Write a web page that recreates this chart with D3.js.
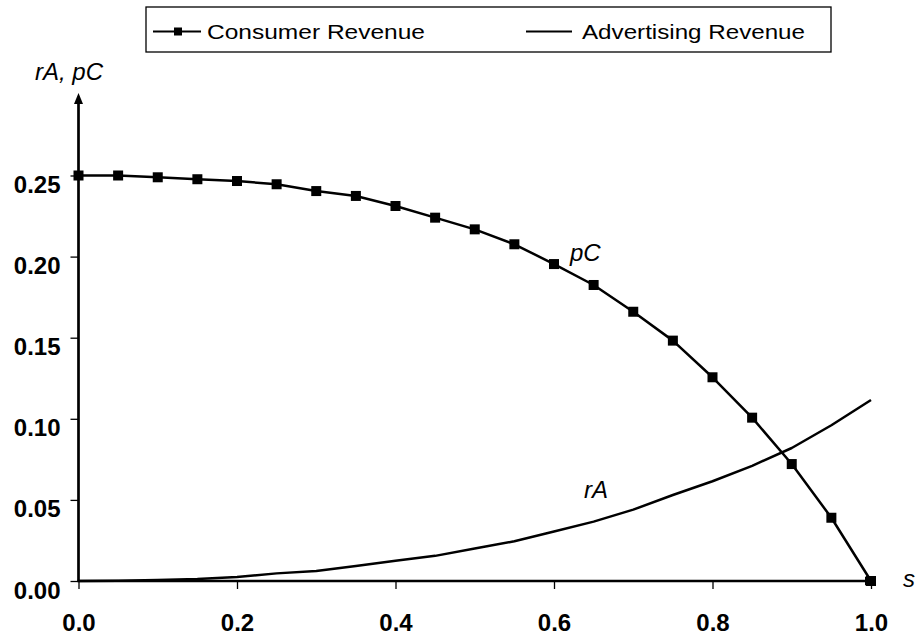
<!DOCTYPE html>
<html>
<head>
<meta charset="utf-8">
<script src="https://cdn.jsdelivr.net/npm/d3@7"></script>
<style>
  html, body { margin: 0; padding: 0; background: #fff; }
  svg { display: block; }
  text { font-family: "Liberation Sans", Arial, Helvetica, sans-serif; fill: #000; }
</style>
</head>
<body>
<svg id="chart" width="916" height="637"></svg>
<script>
// ---- data ----
const sValues = [0, 0.05, 0.1, 0.15, 0.2, 0.25, 0.3, 0.35, 0.4, 0.45, 0.5,
                 0.55, 0.6, 0.65, 0.7, 0.75, 0.8, 0.85, 0.9, 0.95, 1.0];
const consumerRevenue = [0.250, 0.250, 0.2489, 0.2477, 0.2466, 0.2446, 0.2404, 0.2374,
                         0.2312, 0.2240, 0.2168, 0.2076, 0.1954, 0.1825, 0.1660,
                         0.1482, 0.1256, 0.1007, 0.0721, 0.0390, 0.0];
const advertisingRevenue = [0, 0.0002, 0.0006, 0.0012, 0.0025, 0.0047, 0.0062, 0.0092,
                            0.0125, 0.0155, 0.0200, 0.0245, 0.0305, 0.0366, 0.0440,
                            0.0530, 0.0615, 0.0710, 0.0820, 0.0960, 0.1116];
const xTicks = [0, 0.2, 0.4, 0.6, 0.8, 1.0];
const yTicks = [0, 0.05, 0.10, 0.15, 0.20, 0.25];
const seriesNames = ["Consumer Revenue", "Advertising Revenue"];
const axisLabels = { y: "rA, pC", x: "s", pC: "pC", rA: "rA" };

// ---- layout ----
const svg = d3.select("#chart");
const x = d3.scaleLinear().domain([0, 1]).range([78.5, 871]);
const y = d3.scaleLinear().domain([0, 0.25]).range([581, 175.5]);
const x0 = x(0), y0 = y(0);

// axes (ticks + labels)
const xAxis = d3.axisBottom(x).tickValues(xTicks).tickFormat(d3.format(".1f"))
  .tickSize(8).tickPadding(25);
const gx = svg.append("g").attr("transform", `translate(0,${y0})`).call(xAxis);
gx.select(".domain").remove();
gx.selectAll(".tick line").attr("stroke", "#000").attr("stroke-width", 1.3);
gx.selectAll(".tick text").attr("font-size", 24).attr("font-weight", "bold")
  .attr("font-family", "Liberation Sans, Arial, sans-serif").attr("fill", "#000");

const yAxis = d3.axisLeft(y).tickValues(yTicks).tickFormat(d3.format(".2f"))
  .tickSize(8).tickPadding(10);
const gy = svg.append("g").attr("transform", `translate(${x0},0)`).call(yAxis);
gy.select(".domain").remove();
gy.selectAll(".tick line").attr("stroke", "#000").attr("stroke-width", 1.3);
gy.selectAll(".tick text").attr("font-size", 24).attr("font-weight", "bold")
  .attr("dy", 17)
  .attr("font-family", "Liberation Sans, Arial, sans-serif").attr("fill", "#000");

// axis lines with arrows
svg.append("line").attr("x1", x0).attr("x2", x0).attr("y1", y0 + 1).attr("y2", 100)
  .attr("stroke", "#000").attr("stroke-width", 2.7);
svg.append("path").attr("d", `M${x0},93 L${x0 - 4.5},104 L${x0 + 4.5},104 Z`).attr("fill", "#000");
svg.append("line").attr("x1", x0 - 1).attr("x2", x(1) + 1).attr("y1", y0).attr("y2", y0)
  .attr("stroke", "#000").attr("stroke-width", 2.7);
svg.append("path").attr("d", `M${x(1) + 5},${y0} L${x(1) - 6},${y0 - 4.5} L${x(1) - 6},${y0 + 4.5} Z`).attr("fill", "#000");

// lines
const lineGen = d3.line().x(d => x(d[0])).y(d => y(d[1]));
const adData = sValues.map((s, i) => [s, advertisingRevenue[i]]);
const crData = sValues.map((s, i) => [s, consumerRevenue[i]]);

svg.append("path").datum(adData).attr("d", lineGen)
  .attr("fill", "none").attr("stroke", "#000").attr("stroke-width", 2.5)
  .attr("stroke-linejoin", "round");
svg.append("path").datum(crData).attr("d", lineGen)
  .attr("fill", "none").attr("stroke", "#000").attr("stroke-width", 2.5)
  .attr("stroke-linejoin", "round");

const ms = 10;
svg.append("g").selectAll("rect").data(crData).join("rect")
  .attr("x", d => x(d[0]) - ms / 2).attr("y", d => y(d[1]) - ms / 2)
  .attr("width", ms).attr("height", ms).attr("fill", "#000");

// annotations
svg.append("text").attr("x", 35).attr("y", 80).attr("font-size", 24)
  .attr("font-style", "italic").text(axisLabels.y);
svg.append("text").attr("x", 903).attr("y", 587).attr("font-size", 24)
  .attr("font-style", "italic").text(axisLabels.x);
svg.append("text").attr("x", 570).attr("y", 261).attr("font-size", 24)
  .attr("font-style", "italic").text(axisLabels.pC);
svg.append("text").attr("x", 584).attr("y", 498).attr("font-size", 24)
  .attr("font-style", "italic").text(axisLabels.rA);

// legend
const lg = svg.append("g");
lg.append("rect").attr("x", 146).attr("y", 7).attr("width", 685).attr("height", 45)
  .attr("fill", "#fff").attr("stroke", "#000").attr("stroke-width", 1.3);
const ly = 31.5;
lg.append("line").attr("x1", 153).attr("x2", 201).attr("y1", ly).attr("y2", ly)
  .attr("stroke", "#000").attr("stroke-width", 2);
lg.append("rect").attr("x", 178 - 4).attr("y", ly - 4).attr("width", 8).attr("height", 8).attr("fill", "#000");
lg.append("text").attr("x", 207).attr("y", 39).attr("font-size", 21)
  .attr("textLength", 218).attr("lengthAdjust", "spacingAndGlyphs").text(seriesNames[0]);
lg.append("line").attr("x1", 526).attr("x2", 572).attr("y1", ly).attr("y2", ly)
  .attr("stroke", "#000").attr("stroke-width", 2);
lg.append("text").attr("x", 582).attr("y", 39).attr("font-size", 21)
  .attr("textLength", 223).attr("lengthAdjust", "spacingAndGlyphs").text(seriesNames[1]);
</script>
</body>
</html>
